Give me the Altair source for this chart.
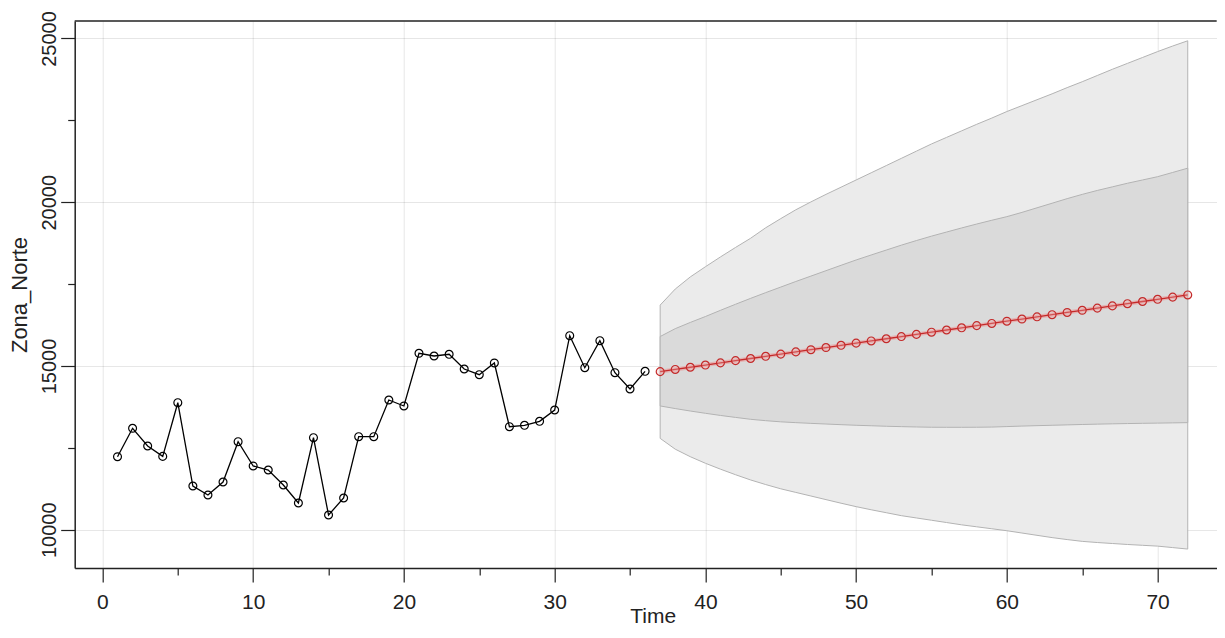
import altair as alt
import pandas as pd

# ---------------- data ----------------
time_obs = [1, 2, 3, 4, 5, 6, 7, 8, 9, 10, 11, 12, 13, 14, 15, 16, 17, 18,
            19, 20, 21, 22, 23, 24, 25, 26, 27, 28, 29, 30, 31, 32, 33, 34, 35, 36]
zona_norte = [12230, 13098, 12557, 12240, 13879, 11336, 11061, 11458, 12689, 11947,
              11824, 11366, 10817, 12811, 10450, 10969, 12841, 12841, 13962, 13779,
              15388, 15305, 15357, 14908, 14734, 15092, 13147, 13189, 13311, 13656,
              15925, 14948, 15773, 14795, 14298, 14838]

time_fc = [37, 38, 39, 40, 41, 42, 43, 44, 45, 46, 47, 48, 49, 50, 51, 52, 53, 54,
           55, 56, 57, 58, 59, 60, 61, 62, 63, 64, 65, 66, 67, 68, 69, 70, 71, 72]
fc_mean = [14828, 14895, 14962, 15029, 15096, 15163, 15229, 15296, 15363, 15430,
           15497, 15564, 15631, 15698, 15765, 15832, 15898, 15965, 16032, 16099,
           16166, 16233, 16300, 16367, 16434, 16501, 16567, 16634, 16701, 16768,
           16835, 16902, 16969, 17036, 17103, 17170]
hi80 = [15900, 16140, 16330, 16510, 16700, 16885, 17065, 17240, 17410, 17580,
        17745, 17910, 18075, 18237, 18390, 18540, 18690, 18830, 18965, 19090,
        19215, 19335, 19450, 19560, 19690, 19830, 19970, 20110, 20240, 20360,
        20470, 20580, 20680, 20780, 20910, 21040]
lo80 = [13780, 13700, 13625, 13556, 13490, 13430, 13372, 13330, 13295, 13270,
        13248, 13228, 13208, 13190, 13175, 13160, 13148, 13138, 13130, 13128,
        13128, 13130, 13135, 13150, 13165, 13178, 13190, 13202, 13214, 13225,
        13234, 13242, 13250, 13256, 13263, 13270]
hi95 = [16860, 17350, 17720, 18030, 18330, 18620, 18900, 19220, 19500, 19770,
        20010, 20240, 20460, 20680, 20900, 21120, 21340, 21560, 21780, 21980,
        22180, 22380, 22570, 22770, 22950, 23130, 23310, 23500, 23680, 23870,
        24060, 24240, 24420, 24600, 24770, 24930]
lo95 = [12790, 12460, 12230, 12030, 11850, 11680, 11520, 11380, 11250, 11140,
        11030, 10920, 10810, 10705, 10610, 10520, 10430, 10360, 10290, 10220,
        10150, 10090, 10030, 9970, 9900, 9830, 9760, 9700, 9645, 9610,
        9580, 9550, 9525, 9500, 9455, 9410]

x_ticks = [0, 5, 10, 15, 20, 25, 30, 35, 40, 45, 50, 55, 60, 65, 70]
y_ticks = [10000, 12500, 15000, 17500, 20000, 22500, 25000]
x_domain = [-1.84, 73.92]
y_domain = [8832, 25534]

obs = pd.DataFrame({"t": time_obs, "v": zona_norte})
fc = pd.DataFrame({"t": time_fc, "mean": fc_mean, "lo80": lo80, "hi80": hi80,
                   "lo95": lo95, "hi95": hi95})
one = pd.DataFrame({"a": [0]})

W, H = 1142, 547
FONT = "Liberation Sans"
INK = "#222222"

x_scale = alt.Scale(domain=x_domain, nice=False, zero=False)
y_scale = alt.Scale(domain=y_domain, nice=False, zero=False)

x_axis = alt.Axis(
    values=x_ticks,
    title="Time",
    labelExpr="datum.value % 10 === 0 ? datum.label : ''",
    tickSize={"condition": {"test": "datum.value % 10 === 0", "value": 14}, "value": 7},
    gridOpacity={"condition": {"test": "datum.value % 10 === 0", "value": 0.1}, "value": 0},
    labelFontSize=21,
    labelPadding=10,
    labelOverlap=False,
    labelFlush=False,
    titleFontSize=21,
    titleX=578,
    titleY=55,
    titleAlign="center",
    titleBaseline="alphabetic",
)
y_axis = alt.Axis(
    values=y_ticks,
    title="Zona_Norte",
    labelExpr="datum.value % 5000 === 0 ? datum.label : ''",
    format="d",
    tickSize={"condition": {"test": "datum.value % 5000 === 0", "value": 14}, "value": 7},
    gridOpacity={"condition": {"test": "datum.value % 5000 === 0", "value": 0.1}, "value": 0},
    labelAngle=270,
    labelAlign="center",
    labelBaseline="alphabetic",
    labelFontSize=20,
    labelPadding=5,
    labelOverlap=False,
    labelFlush=False,
    titleFontSize=22,
    titleAngle=270,
    titleX=-48,
    titleY=273.5,
    titleAlign="center",
    titleBaseline="alphabetic",
)


def X(field):
    return alt.X(f"{field}:Q", scale=x_scale, axis=x_axis)


def Y(field):
    return alt.Y(f"{field}:Q", scale=y_scale, axis=y_axis)


outer = alt.Chart(fc).mark_area(
    fill="#ebebeb", stroke="#b3b3b3", strokeWidth=1
).encode(x=X("t"), y=Y("lo95"), y2="hi95:Q")

inner = alt.Chart(fc).mark_area(
    fill="#dadada", stroke="#b3b3b3", strokeWidth=1
).encode(x=X("t"), y=Y("lo80"), y2="hi80:Q")

obs_line = alt.Chart(obs).mark_line(color="black", strokeWidth=1.3).encode(
    x=X("t"), y=Y("v"))
obs_pts = alt.Chart(obs).mark_point(
    shape="circle", filled=False, color="black", size=62, strokeWidth=1.2, opacity=1
).encode(x=X("t"), y=Y("v"))

fc_halo = alt.Chart(fc).mark_line(color="#f08a8a", strokeWidth=4, opacity=0.5).encode(
    x=X("t"), y=Y("mean"))
fc_line = alt.Chart(fc).mark_line(color="#c42a2a", strokeWidth=1.3).encode(
    x=X("t"), y=Y("mean"))
fc_pts = alt.Chart(fc).mark_point(
    shape="circle", filled=True, fill="#f3b0b0", fillOpacity=0.3,
    stroke="#c42a2a", strokeWidth=1.2, size=62, opacity=1
).encode(x=X("t"), y=Y("mean"))

top_rule = alt.Chart(one).mark_rule(color=INK, strokeWidth=1.5).encode(
    x=alt.value(0), x2=alt.value(W), y=alt.value(0))

chart = alt.layer(
    outer, inner, obs_line, obs_pts, fc_halo, fc_line, fc_pts, top_rule
).properties(
    width=W,
    height=H,
    padding={"left": 66.7, "top": 13, "right": 0, "bottom": 62},
    autosize=alt.AutoSizeParams(type="none"),
    background="white",
).configure_view(
    stroke=None
).configure_axis(
    zindex=1,
    domainColor=INK,
    domainWidth=1.5,
    tickColor=INK,
    tickWidth=1.2,
    gridColor="black",
    gridWidth=1,
    labelFont=FONT,
    labelColor=INK,
    titleFont=FONT,
    titleColor=INK,
    titleFontWeight="normal",
)

chart.save("out.html", embed_options={"renderer": "svg", "actions": False})
